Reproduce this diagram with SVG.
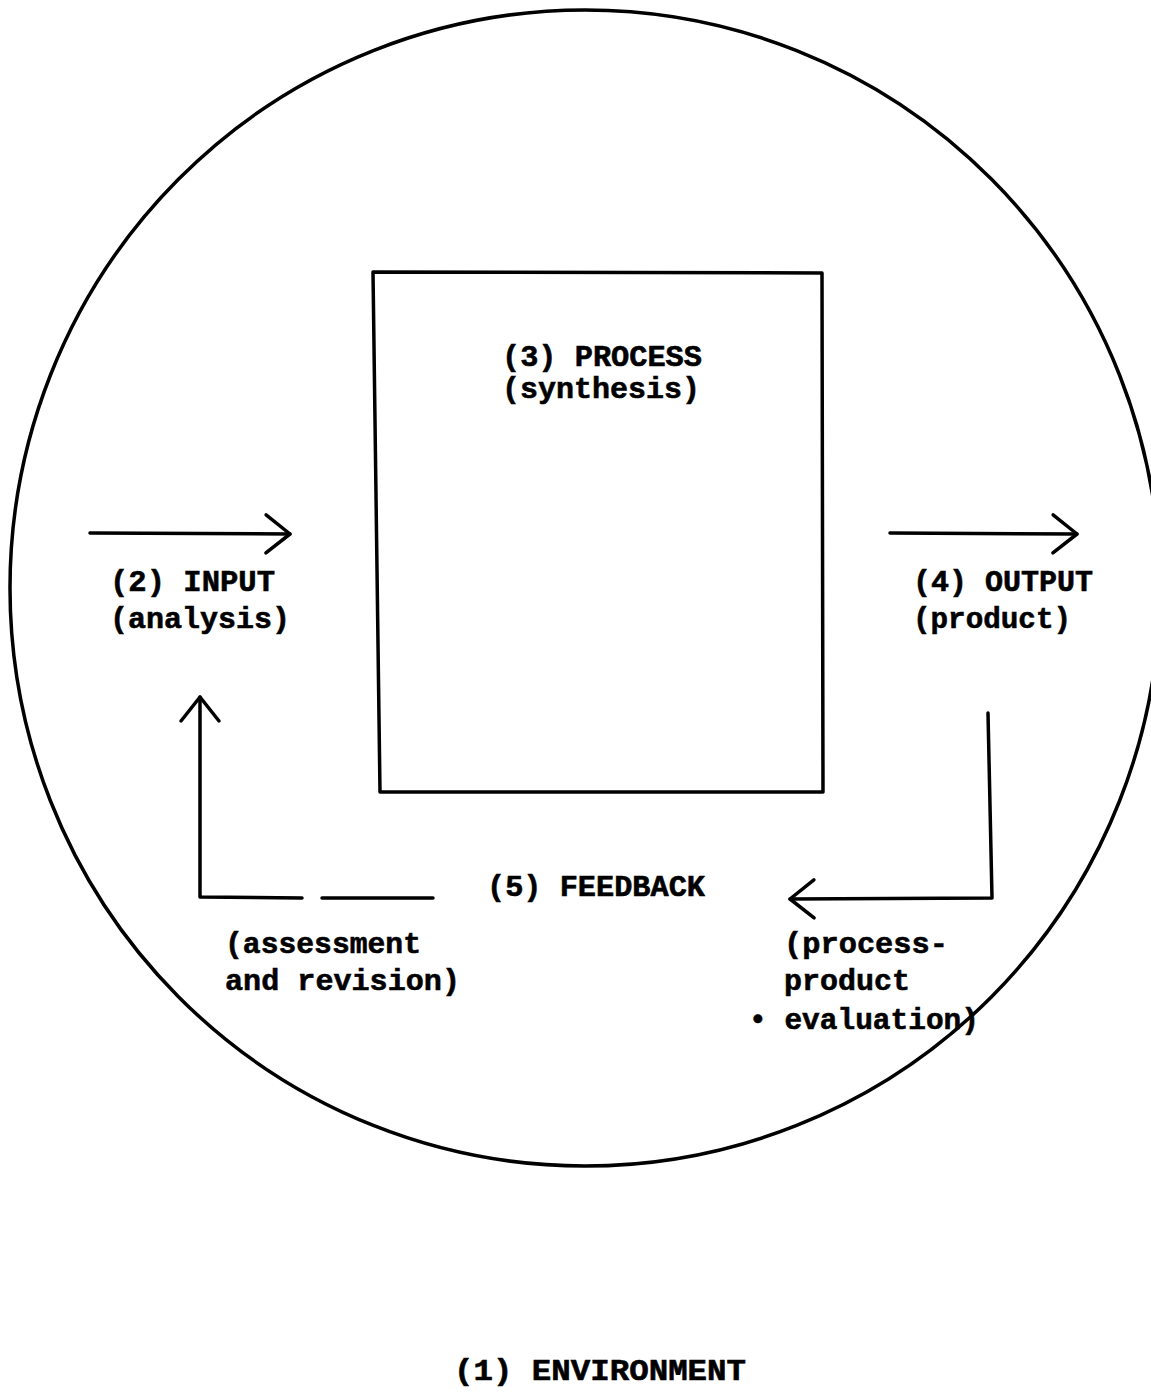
<svg xmlns="http://www.w3.org/2000/svg" width="1151" height="1393" viewBox="0 0 1151 1393">
<style>
  .ln { fill: none; stroke: #000; stroke-width: 3.5; stroke-linecap: round; stroke-linejoin: round; }
  .tx { font-family: "Liberation Mono", "DejaVu Sans Mono", monospace; font-weight: bold; font-size: 30px; fill: #000; stroke: #000; stroke-width: 0.6; }
</style>
<defs>
  <marker id="arr" viewBox="0 0 28 42" refX="26" refY="21" markerWidth="28" markerHeight="42" markerUnits="userSpaceOnUse" orient="auto" overflow="visible">
    <path d="M2,2 L26,21 L2,40" fill="none" stroke="#000" stroke-width="3.5" stroke-linecap="round" stroke-linejoin="round"/>
  </marker>
</defs>
<rect width="1151" height="1393" fill="#fff"/>

<g id="environment">
  <ellipse class="ln" cx="585" cy="588" rx="575" ry="578"/>
  <text class="tx" x="454" y="1380" textLength="292" lengthAdjust="spacingAndGlyphs">(1) ENVIRONMENT</text>
</g>

<g id="process">
  <polygon class="ln" points="373,272 822,273 823,792 380,792"/>
  <text class="tx" x="502" y="366" textLength="200" lengthAdjust="spacingAndGlyphs">(3) PROCESS</text>
  <text class="tx" x="502" y="398" textLength="198" lengthAdjust="spacingAndGlyphs">(synthesis)</text>
</g>

<g id="input">
  <text class="tx" x="110" y="591" textLength="165" lengthAdjust="spacingAndGlyphs">(2) INPUT</text>
  <text class="tx" x="110" y="628" textLength="180" lengthAdjust="spacingAndGlyphs">(analysis)</text>
</g>

<g id="output">
  <text class="tx" x="913" y="591" textLength="180" lengthAdjust="spacingAndGlyphs">(4) OUTPUT</text>
  <text class="tx" x="913" y="628" textLength="158" lengthAdjust="spacingAndGlyphs">(product)</text>
</g>

<g id="feedback">
  <text class="tx" x="487" y="896" textLength="218" lengthAdjust="spacingAndGlyphs">(5) FEEDBACK</text>
  <text class="tx" x="225" y="953" textLength="196" lengthAdjust="spacingAndGlyphs">(assessment</text>
  <text class="tx" x="225" y="990" textLength="235" lengthAdjust="spacingAndGlyphs">and revision)</text>
  <text class="tx" x="784" y="953" textLength="164" lengthAdjust="spacingAndGlyphs">(process-</text>
  <text class="tx" x="784" y="990" textLength="126" lengthAdjust="spacingAndGlyphs">product</text>
  <text class="tx" x="749" y="1029" textLength="230" lengthAdjust="spacingAndGlyphs">• evaluation)</text>
</g>

<g id="connectors">
  <path class="ln" d="M90,533 L290,534" marker-end="url(#arr)"/>
  <path class="ln" d="M890,533 L1077,534" marker-end="url(#arr)"/>
  <path class="ln" d="M988,713 L992,898 L790,899" marker-end="url(#arr)"/>
  <path class="ln" d="M433,898 L322,898"/>
  <path class="ln" d="M302,898 L200,897 L200,697" marker-end="url(#arr)"/>
</g>
</svg>
